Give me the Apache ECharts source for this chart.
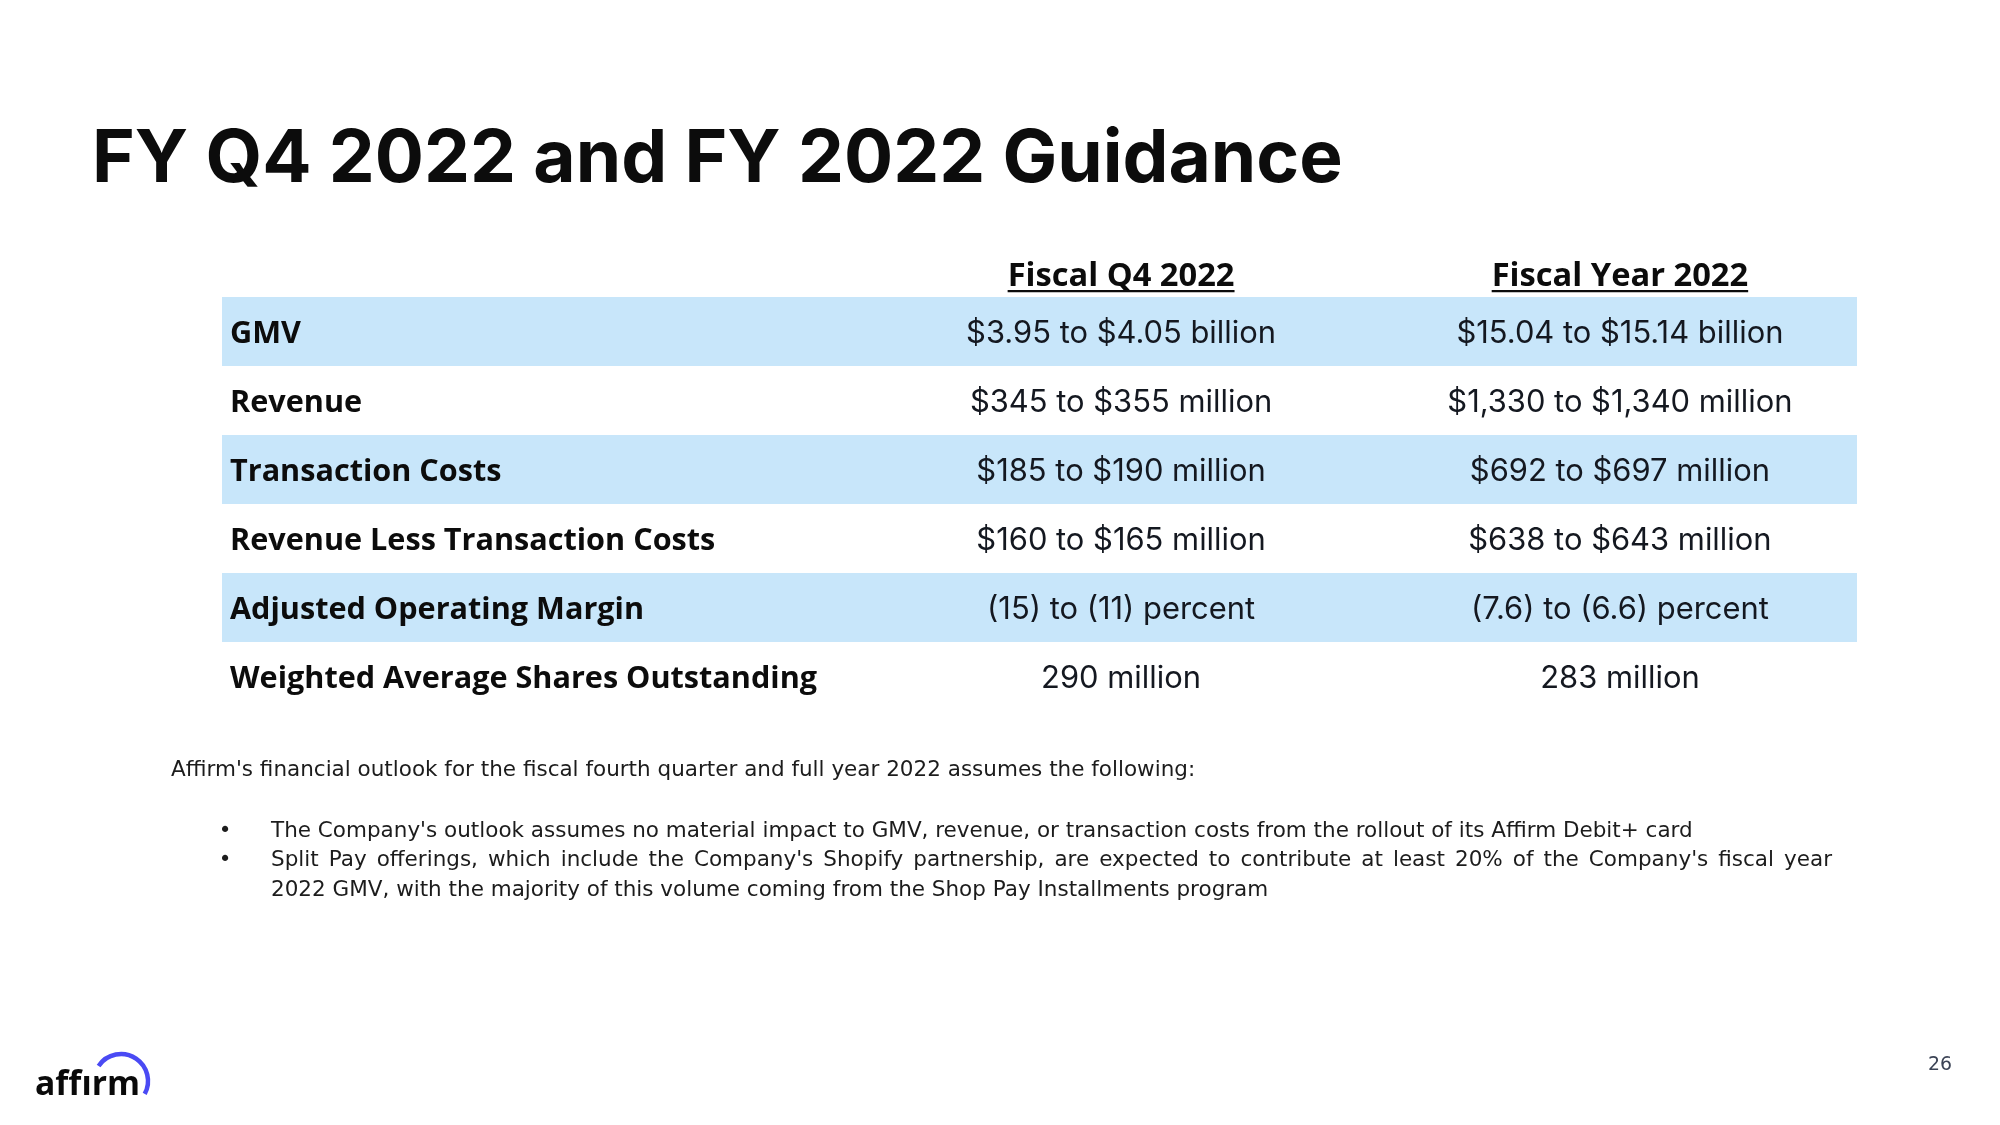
<!DOCTYPE html>
<html>
<head>
<meta charset="utf-8">
<script src="https://cdn.jsdelivr.net/npm/echarts@6/dist/echarts.min.js"></script>
<style>html,body{margin:0;padding:0;background:#fff}#c{width:2000px;height:1125px}</style>
</head>
<body>
<div id="c"></div>
<script>
// ---------- DATA ----------
const titleText = 'FY Q4 2022 and FY 2022 Guidance';
const columnHeaders = ['Fiscal Q4 2022', 'Fiscal Year 2022'];
const rowLabels = ['GMV', 'Revenue', 'Transaction Costs', 'Revenue Less Transaction Costs', 'Adjusted Operating Margin', 'Weighted Average Shares Outstanding'];
const q4Values = ['$3.95 to $4.05 billion', '$345 to $355 million', '$185 to $190 million', '$160 to $165 million', '(15) to (11) percent', '290 million'];
const fyValues = ['$15.04 to $15.14 billion', '$1,330 to $1,340 million', '$692 to $697 million', '$638 to $643 million', '(7.6) to (6.6) percent', '283 million'];
const introText = "Affirm's financial outlook for the fiscal fourth quarter and full year 2022 assumes the following:";
const bulletLines = [
  { bullet: true, justify: false, text: "The Company's outlook assumes no material impact to GMV, revenue, or transaction costs from the rollout of its Affirm Debit+ card" },
  { bullet: true, justify: true, text: "Split Pay offerings, which include the Company's Shopify partnership, are expected to contribute at least 20% of the Company's fiscal year" },
  { bullet: false, justify: false, text: "2022 GMV, with the majority of this volume coming from the Shop Pay Installments program" }
];
const logoText = 'aff\u0131rm';
const pageNumber = '26';

// ---------- font helpers ----------
const FAMS = ['Open Sans', 'Lato', 'Roboto', 'Inter', 'Noto Sans', 'Liberation Sans', 'DejaVu Sans'];
const ctx = document.createElement('canvas').getContext('2d');
function fontStr(w, s, f) { return w + ' ' + s.toFixed(2) + 'px "' + f + '"'; }
function measure(text, w, s, f, base) { ctx.font = fontStr(w, s, f); ctx.textBaseline = base || 'alphabetic'; return ctx.measureText(text); }
function pick(text, weight, targetW, targetCap, fams) {
  let best = null;
  (fams || FAMS).forEach(f => {
    const w = measure(text, weight, 100, f).width;
    const size = 100 * targetW / w;
    const cap = measure('H', weight, size, f).actualBoundingBoxAscent;
    const err = Math.abs(cap - targetCap);
    if (!best || err < best.err) best = { fam: f, size: size, err: err, weight: weight };
  });
  best.font = fontStr(best.weight, best.size, best.fam);
  return best;
}
function midFromBase(baseline, fp) {
  const m = measure('H', fp.weight, fp.size, fp.fam, 'middle');
  return baseline - m.actualBoundingBoxDescent;
}
function midFromCapCenter(center, fp) {
  const m = measure('H', fp.weight, fp.size, fp.fam, 'middle');
  return center + (m.actualBoundingBoxAscent - m.actualBoundingBoxDescent) / 2;
}

const fTitle = pick(titleText, 700, 1251, 52);
const fLabel = pick(rowLabels[5], 700, 587, 21);
const fHead = pick(columnHeaders[0], 700, 227, 21, [fLabel.fam]);
const fVal = pick(q4Values[0], 400, 310, 22);
const fBody = pick(introText, 400, 1024, 14);
const fLogo = pick(logoText, 700, 105, 24);
const fPage = pick(pageNumber, 400, 24, 15, [fBody.fam]);

const COL_FR = [0.5499, 0.855];
const TEXT_DARK = '#0c0c0c';
const VAL_COLOR = '#141820';
const BODY_COLOR = '#1c1c1c';

// ---------- graphic (title, notes, logo) ----------
const graphics = [];
graphics.push({ type: 'text', silent: true, style: { text: titleText, x: 92, y: midFromBase(181.5, fTitle), font: fTitle.font, fill: TEXT_DARK, align: 'left', verticalAlign: 'middle' } });
graphics.push({ type: 'text', silent: true, style: { text: introText, x: 171, y: midFromBase(776, fBody), font: fBody.font, fill: BODY_COLOR, align: 'left', verticalAlign: 'middle' } });
const bulletBase = [836.5, 866, 895.5];
bulletLines.forEach((ln, i) => {
  const y = midFromBase(bulletBase[i], fBody);
  if (ln.bullet) graphics.push({ type: 'text', silent: true, style: { text: '\u2022', x: 225, y: y, font: fBody.font, fill: BODY_COLOR, align: 'center', verticalAlign: 'middle' } });
  if (ln.justify) {
    const words = ln.text.split(' ');
    const widths = words.map(w => measure(w, fBody.weight, fBody.size, fBody.fam).width);
    const total = widths.reduce((a, b) => a + b, 0);
    const x0 = 271, x1 = 1832;
    const gap = (x1 - x0 - total) / (words.length - 1);
    let x = x0;
    words.forEach((w, k) => {
      graphics.push({ type: 'text', silent: true, style: { text: w, x: x, y: y, font: fBody.font, fill: BODY_COLOR, align: 'left', verticalAlign: 'middle' } });
      x += widths[k] + gap;
    });
  } else {
    graphics.push({ type: 'text', silent: true, style: { text: ln.text, x: 271, y: y, font: fBody.font, fill: BODY_COLOR, align: 'left', verticalAlign: 'middle' } });
  }
});
// logo
graphics.push({ type: 'text', silent: true, style: { text: logoText, x: 35, y: midFromBase(1095, fLogo), font: fLogo.font, fill: '#0a0a0a', align: 'left', verticalAlign: 'middle' } });
graphics.push({ type: 'arc', silent: true, shape: { cx: 121, cy: 1081, r: 27, startAngle: -2.55, endAngle: 0.5, clockwise: true }, style: { stroke: '#4A4AF4', lineWidth: 4.5, fill: null, lineCap: 'butt' } });
// page number
graphics.push({ type: 'text', silent: true, style: { text: pageNumber, x: 1940, y: midFromCapCenter(1062.5, fPage), font: fPage.font, fill: '#3b4355', align: 'center', verticalAlign: 'middle' } });

// ---------- chart ----------
const chart = echarts.init(document.getElementById('c'), null, { renderer: 'canvas' });
const option = {
  animation: false,
  backgroundColor: '#ffffff',
  grid: { left: 222, top: 297, width: 1635, height: 414, containLabel: false },
  xAxis: { type: 'value', min: 0, max: 1, show: false },
  yAxis: { type: 'category', data: rowLabels, inverse: true, show: false },
  graphic: graphics,
  series: [
    {
      type: 'bar', silent: true, barWidth: '100%', z: 1,
      itemStyle: { color: '#C8E6FA' },
      data: rowLabels.map((_, i) => (i % 2 === 0 ? 1 : null))
    },
    {
      type: 'custom', silent: true, z: 10,
      encode: { x: 0, y: 1 },
      data: rowLabels.map((lab, i) => [0, i]),
      renderItem: function (params, api) {
        const i = api.value(1);
        const cs = params.coordSys;
        const c = api.coord([0, i]);
        const band = api.size([0, 1])[1];
        const cy = c[1];
        const children = [
          { type: 'text', z2: 10, style: { text: rowLabels[i], x: cs.x + 8, y: midFromCapCenter(cy, fLabel), font: fLabel.font, fill: TEXT_DARK, align: 'left', verticalAlign: 'middle' } },
          { type: 'text', z2: 10, style: { text: q4Values[i], x: cs.x + cs.width * COL_FR[0], y: midFromCapCenter(cy, fVal), font: fVal.font, fill: VAL_COLOR, align: 'center', verticalAlign: 'middle' } },
          { type: 'text', z2: 10, style: { text: fyValues[i], x: cs.x + cs.width * COL_FR[1], y: midFromCapCenter(cy, fVal), font: fVal.font, fill: VAL_COLOR, align: 'center', verticalAlign: 'middle' } }
        ];
        if (i === 0) {
          const headBase = cy - band / 2 - 11;
          columnHeaders.forEach((h, k) => {
            const hx = cs.x + cs.width * COL_FR[k];
            const hw = measure(h, fHead.weight, fHead.size, fHead.fam).width;
            children.push({ type: 'text', style: { text: h, x: hx, y: midFromBase(headBase, fHead), font: fHead.font, fill: TEXT_DARK, align: 'center', verticalAlign: 'middle' } });
            children.push({ type: 'rect', shape: { x: hx - hw / 2, y: headBase + 4, width: hw, height: 2.2 }, style: { fill: TEXT_DARK } });
          });
        }
        return { type: 'group', children: children };
      }
    }
  ]
};
chart.setOption(option);
</script>
</body>
</html>
